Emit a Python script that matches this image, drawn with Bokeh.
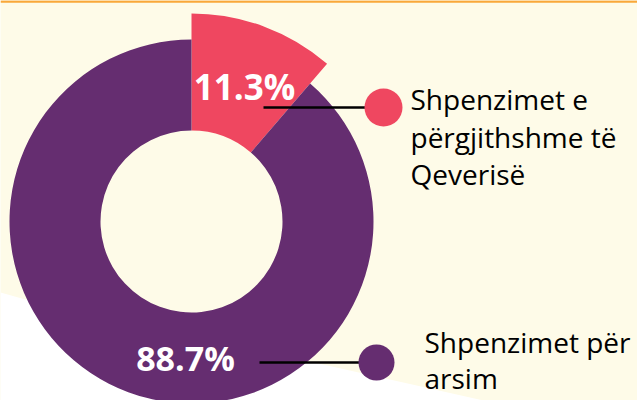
import numpy as np
from bokeh.plotting import figure
from bokeh.models import Range1d
from bokeh.core.properties import value
from bokeh.embed import file_html
from bokeh.resources import INLINE

# ---- data ----
categories = ["Shpenzimet e përgjithshme të Qeverisë", "Shpenzimet për arsim"]
legend_lines = [["Shpenzimet e", "përgjithshme të", "Qeverisë"], ["Shpenzimet për", "arsim"]]
shares = [11.3, 88.7]
labels = ["11.3%", "88.7%"]
colors = ["#EF4760", "#652D70"]

W, H = 637, 400
CREAM = "#FEFBE8"

p = figure(width=W, height=H, output_backend="svg", toolbar_location=None,
           x_range=Range1d(0, W), y_range=Range1d(0, H), min_border=0)
p.axis.visible = False
p.grid.visible = False
p.outline_line_color = None
p.background_fill_color = CREAM
p.border_fill_color = CREAM

# decorative white shape bottom-left and orange top line
p.patch([0, 25, 327, 483, 0], [H - 292, H - 299, H - 365, H - 400, H - 400],
        fill_color="white", line_color=None)
p.rect(x=W / 2, y=H - 1, width=W, height=2.5, fill_color="#F9A83A", line_color=None)

# donut geometry
cx, cy = 191, H - 221
inner = 91
outer = [208, 182]
fr = np.array(shares) / sum(shares)
ends = np.pi / 2 - np.concatenate([[0], np.cumsum(fr)[:-1]]) * 2 * np.pi
starts = ends - fr * 2 * np.pi
for i in range(len(shares)):
    p.annular_wedge(x=cx, y=cy, inner_radius=inner, outer_radius=outer[i],
                    start_angle=starts[i], end_angle=ends[i],
                    fill_color=colors[i], line_color=None)

DESC = 0.3  # Bokeh places "alphabetic" text about this fraction of the size too low

# percentage labels
label_pos = [(244, H - 96), (185, H - 368)]
label_size = [35, 34]
for i in range(len(labels)):
    p.text(x=[label_pos[i][0]], y=[label_pos[i][1] + DESC * label_size[i]], text=[labels[i]],
           text_font=value("Open Sans"), text_font_style="bold",
           text_font_size=f"{label_size[i]}px", text_color="white",
           text_align="center", text_baseline="alphabetic")

# leader lines and legend markers
lead_y = [H - 107, H - 362]
lead_x0 = [263, 259]
dot_x = [383, 376]
dot_r = [19, 18]
for i in range(len(shares)):
    p.line([lead_x0[i], dot_x[i]], [lead_y[i], lead_y[i]], line_color="black", line_width=2.5)
    p.circle(x=[dot_x[i]], y=[lead_y[i]], radius=dot_r[i], fill_color=colors[i], line_color=None)

# legend texts
text_x = [410, 424]
first_base = [H - 107, H - 350]
line_gap = [37.5, 35.5]
LS = 28
for i in range(len(legend_lines)):
    for j, t in enumerate(legend_lines[i]):
        p.text(x=[text_x[i]], y=[first_base[i] - j * line_gap[i] + DESC * LS], text=[t],
               text_font=value("Open Sans"), text_font_size=f"{LS}px",
               text_color="black", text_align="left", text_baseline="alphabetic")

open("out.html", "w").write(file_html(p, INLINE))
